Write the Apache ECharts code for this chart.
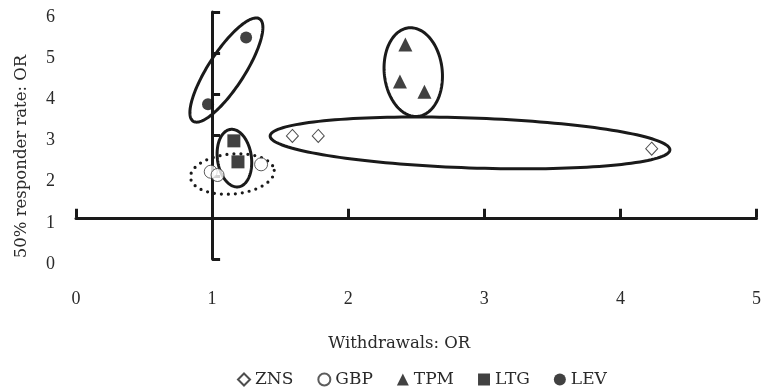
<!DOCTYPE html>
<html><head><meta charset="utf-8">
<script src="https://cdn.jsdelivr.net/npm/echarts@6/dist/echarts.min.js"></script>
<style>html,body{margin:0;padding:0;background:#fff}#c{width:764px;height:389px}</style>
</head><body><div id="c"></div>
<script>
// ---- data ----
const xTickLabels = ['0', '1', '2', '3', '4', '5'];
const yTickLabels = ['0', '1', '2', '3', '4', '5', '6'];
const seriesNames = ['ZNS', 'GBP', 'TPM', 'LTG', 'LEV'];
const znsData = [[1.59, 2.99], [1.78, 2.99], [4.23, 2.68]];
const gbpData = [[0.99, 2.12], [1.04, 2.04], [1.36, 2.30]];
const tpmData = [[2.42, 5.21], [2.38, 4.31], [2.56, 4.06]];
const ltgData = [[1.16, 2.87], [1.19, 2.36]];
const levData = [[0.97, 3.76], [1.25, 5.38]];
// group outline centres (data units)
const groupNames = ['LEV', 'LTG', 'GBP', 'ZNS', 'TPM'];
const groupCenters = [[1.105, 4.59], [1.164, 2.45], [1.149, 2.065], [2.895, 2.82], [2.478, 4.54]];

// ---- styles ----
const ellipseStyles = [
  { rx: 61, ry: 18, rot: 57, dotted: false },
  { rx: 17, ry: 29, rot: 8, dotted: false },
  { rx: 42, ry: 20, rot: 5, dotted: true },
  { rx: 200, ry: 25, rot: -2, dotted: false },
  { rx: 29, ry: 44.5, rot: 6, dotted: false }
];

const serif = 'DejaVu Serif';
const tickFont = 'Liberation Serif';
const ink = '#1a1a1a';
const textColor = '#2a2a2a';

const chart = echarts.init(document.getElementById('c'), null, { renderer: 'canvas' });

const markerStyles = {
  ZNS: { symbol: 'diamond', symbolSize: [12, 13], itemStyle: { color: '#fff', borderColor: '#222', borderWidth: 1 } },
  GBP: { symbol: 'circle', symbolSize: 13, itemStyle: { color: '#fff', borderColor: '#333', borderWidth: 1 } },
  TPM: { symbol: 'triangle', symbolSize: 14, itemStyle: { color: '#111' } },
  LTG: { symbol: 'rect', symbolSize: 13, itemStyle: { color: '#111' } },
  LEV: { symbol: 'circle', symbolSize: 12, itemStyle: { color: '#111' } }
};
const dataByName = { ZNS: znsData, GBP: gbpData, TPM: tpmData, LTG: ltgData, LEV: levData };

const scatterSeries = seriesNames.map(n => Object.assign({
  name: n, type: 'scatter', xAxisIndex: 0, yAxisIndex: 0, z: 5,
  data: dataByName[n]
}, markerStyles[n]));

const ellipseSeries = {
  name: 'groups', type: 'custom', xAxisIndex: 0, yAxisIndex: 0, z: 4,
  silent: true,
  data: groupCenters,
  renderItem: function (params, api) {
    const i = params.dataIndex;
    const c = api.coord([api.value(0), api.value(1)]);
    const s = ellipseStyles[i];
    const th = s.rot * Math.PI / 180;
    const pts = [];
    const N = 160;
    for (let k = 0; k < N; k++) {
      const t = k / N * 2 * Math.PI;
      const ex = s.rx * Math.cos(t), ey = s.ry * Math.sin(t);
      pts.push([c[0] + ex * Math.cos(th) + ey * Math.sin(th), c[1] - ex * Math.sin(th) + ey * Math.cos(th)]);
    }
    return {
      type: 'polygon', shape: { points: pts },
      style: { fill: null, stroke: ink, lineWidth: s.dotted ? 3.2 : 3, lineDash: s.dotted ? [0, 7] : null, lineCap: 'round' }
    };
  }
};

const option = {
  animation: false,
  backgroundColor: '#fff',
  grid: { left: 76, right: 5, top: 12, bottom: 130, containLabel: false },
  legend: {
    data: seriesNames.map(n => ({ name: n, icon: markerStyles[n].symbol })),
    left: 232, top: 366, itemWidth: 12, itemHeight: 12, itemGap: 24,
    textStyle: { fontFamily: serif, fontSize: 17, color: textColor }
  },
  xAxis: [
    {
      type: 'value', min: 0, max: 5, interval: 1, position: 'bottom',
      name: 'Withdrawals: OR', nameLocation: 'middle', nameGap: 76,
      nameTextStyle: { fontFamily: serif, fontSize: 16.5, color: textColor, padding: [0, 34, 0, 0] },
      axisLine: { show: false, onZero: false }, axisTick: { show: false }, splitLine: { show: false },
      axisLabel: { margin: 31, fontFamily: tickFont, fontSize: 18, color: textColor,
        formatter: v => xTickLabels[Math.round(v)] }
    },
    {
      type: 'value', min: -1, max: 4, interval: 1, position: 'bottom',
      axisLine: { show: true, onZero: true, onZeroAxisIndex: 1, lineStyle: { color: ink, width: 3 } },
      axisTick: { show: true, inside: true, length: 9, lineStyle: { color: ink, width: 3 } },
      axisLabel: { show: false }, splitLine: { show: false }
    }
  ],
  yAxis: [
    {
      type: 'value', min: 0, max: 6, interval: 1, position: 'left',
      name: '50% responder rate: OR', nameLocation: 'middle', nameGap: 46, nameRotate: 90,
      nameTextStyle: { fontFamily: serif, fontSize: 16.5, color: textColor, padding: [0, 42, 0, 0] },
      axisLine: { show: false, onZero: false }, axisTick: { show: false }, splitLine: { show: false },
      axisLabel: { margin: 21, fontFamily: tickFont, fontSize: 18, color: textColor,
        verticalAlign: 'top', lineHeight: 10,
        formatter: v => yTickLabels[Math.round(v)] }
    },
    {
      type: 'value', min: -1, max: 5, interval: 1, position: 'left',
      axisLine: { show: true, onZero: true, onZeroAxisIndex: 1, lineStyle: { color: ink, width: 3 } },
      axisTick: { show: true, inside: true, length: 8, lineStyle: { color: ink, width: 3 } },
      axisLabel: { show: false }, splitLine: { show: false }
    }
  ],
  series: [ellipseSeries].concat(scatterSeries)
};
chart.setOption(option);
</script>
</body></html>
